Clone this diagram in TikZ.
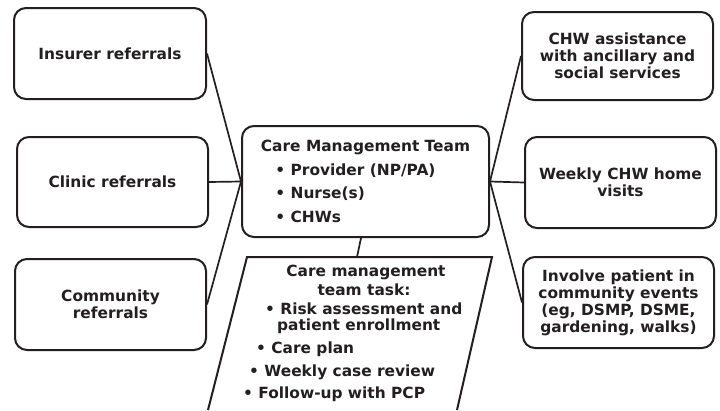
\documentclass[tikz,border=0pt]{standalone}
\usepackage{fontspec}
\setmainfont{DejaVu Sans}
\definecolor{ink}{HTML}{231F20}
\begin{document}
\begin{tikzpicture}[x=1pt,y=-1pt,
  box/.style={draw=ink, line width=2pt, rounded corners=12pt, inner sep=0pt,
    align=center, text=ink, font=\fontsize{15.4}{17}\selectfont\bfseries},
  conn/.style={draw=ink, line width=1.7pt},
  txt/.style={text=ink, inner sep=0pt, font=\fontsize{15.4}{17}\selectfont\bfseries}]
\useasboundingbox (0,0) rectangle (720,410);
\fill[white] (0,0) rectangle (720,410);

% left boxes
\node[box, minimum width=192pt, minimum height=91pt] (ins) at (110,53.5) {Insurer referrals};
\node[box, minimum width=191pt, minimum height=90pt] (cli) at (112.5,182) {Clinic referrals};
\node[box, minimum width=191pt, minimum height=91pt] (com) at (110.5,304.5) {Community\\referrals};

% centre box
\node[box, minimum width=247pt, minimum height=111pt, align=left,
  font=\fontsize{15.4}{23.5}\selectfont\bfseries] (team) at (365.5,181.5)
  {Care Management Team\\
   \hspace*{14.5pt}• Provider (NP/PA)\\
   \hspace*{14.5pt}• Nurse(s)\\
   \hspace*{14.5pt}• CHWs};

% right boxes
\node[box, minimum width=191pt, minimum height=88pt] (chw) at (617.5,56) {CHW assistance\\with ancillary and\\social services};
\node[box, minimum width=191pt, minimum height=91pt] (home) at (620.5,182.5) {Weekly CHW home\\visits};
\node[box, minimum width=191pt, minimum height=91pt] (inv) at (618.5,302.5) {Involve patient in\\community events\\(eg, DSMP, DSME,\\gardening, walks)};

% task parallelogram (runs off the bottom edge)
\coordinate (pbl) at (208,410);
\coordinate (ptl) at (247,257);
\coordinate (ptr) at (492,257);
\coordinate (pbr) at (457,410);
\draw[draw=ink, line width=2pt, line join=miter] (pbl) -- (ptl) -- (ptr) -- (pbr);
\coordinate (ptop) at (357,257);

\node[txt, anchor=base] (t1) at (366,276.7) {Care management};
\node[txt, anchor=base] (t2) at (364,295) {team task:};
\node[txt, anchor=base west] (t3) at (265,314.3) {• Risk assessment and};
\node[txt, anchor=base west] (t4) at (277,330.7) {patient enrollment};
\node[txt, anchor=base west] (t5) at (256,353.3) {• Care plan};
\node[txt, anchor=base west] (t6) at (249,376.7) {• Weekly case review};
\node[txt, anchor=base west] (t7) at (243,398) {• Follow-up with PCP};

% connectors
\draw[conn] (ins.east) -- (team.west);
\draw[conn] (cli.east) -- (team.west);
\draw[conn] (com.east) -- (team.west);
\draw[conn] (chw.west) -- (team.east);
\draw[conn] (home.west) -- (team.east);
\draw[conn] (inv.west) -- (team.east);
\path (team.south) ++(-4.5,0) coordinate (tbot);
\draw[conn] (tbot) -- (ptop);
\end{tikzpicture}
\end{document}
